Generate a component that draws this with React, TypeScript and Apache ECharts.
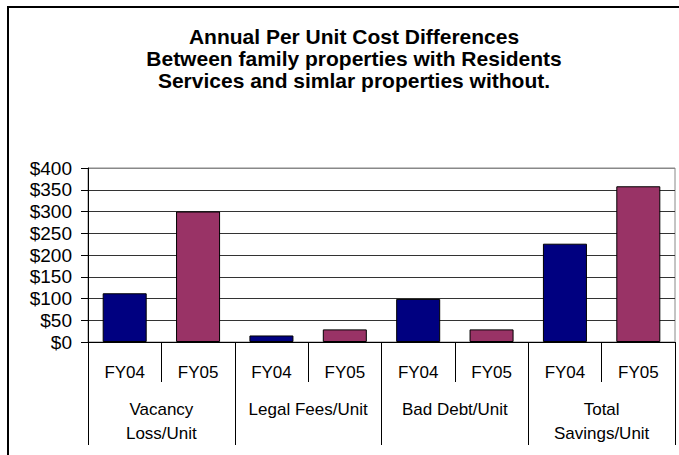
import React, { useEffect, useRef } from "react";
import * as echarts from "echarts";

const titleLines = [
  "Annual Per Unit Cost Differences",
  "Between family properties with Residents",
  "Services and simlar properties without.",
];
const groups = ["Vacancy\nLoss/Unit", "Legal Fees/Unit", "Bad Debt/Unit", "Total\nSavings/Unit"];
const years = ["FY04", "FY05"];
const fy04 = [112, 15, 99, 226];
const fy05 = [300, 29, 29, 358];
const yearColors = ["#000080", "#993366"];
const yTicks = { min: 0, max: 400, interval: 50 };

const FONT = "'Liberation Sans', Arial, Helvetica, sans-serif";

export default function App() {
  const ref = useRef<HTMLDivElement>(null);
  useEffect(() => {
    if (!ref.current) return;
    const chart = echarts.init(ref.current, null, { renderer: "svg" });
    const cats: string[] = [];
    const data: any[] = [];
    groups.forEach((g, i) => {
      [fy04[i], fy05[i]].forEach((v, j) => {
        cats.push(years[j]);
        data.push({ value: v, itemStyle: { color: yearColors[j] } });
      });
    });
    const splitColors = Array.from({ length: 9 }, (_, i) => (i === 8 ? "#888888" : "#333333"));
    chart.setOption({
      animation: false,
      backgroundColor: "#ffffff",
      title: {
        text: titleLines.join("\n"),
        left: 349,
        top: 20,
        textAlign: "center",
        textStyle: {
          fontFamily: FONT,
          fontWeight: "bold",
          fontSize: 21,
          lineHeight: 22,
          color: "#000",
        },
      },
      graphic: [
        {
          type: "rect",
          shape: { x: 8, y: 7, width: 720, height: 520 },
          style: { fill: "none", stroke: "#000", lineWidth: 2 },
          silent: true,
        },
      ],
      grid: {
        left: 88,
        top: 168,
        width: 587,
        height: 174,
        show: true,
        borderColor: "#888888",
        borderWidth: 1,
        backgroundColor: "transparent",
      },
      xAxis: [
        {
          type: "category",
          data: cats,
          position: "bottom",
          axisLine: { show: true, lineStyle: { color: "#000", width: 1 } },
          axisTick: { show: true, interval: 0, length: 40, lineStyle: { color: "#000" } },
          axisLabel: {
            interval: 0,
            margin: 21,
            fontFamily: FONT,
            fontSize: 17,
            lineHeight: 18,
            color: "#000",
          },
          splitLine: { show: false },
        },
        {
          type: "category",
          data: groups,
          position: "bottom",
          axisLine: { show: false },
          axisTick: { show: true, interval: 0, length: 103, lineStyle: { color: "#000" } },
          axisLabel: {
            interval: 0,
            margin: 55,
            fontFamily: FONT,
            fontSize: 17,
            lineHeight: 24,
            color: "#000",
          },
          splitLine: { show: false },
        },
      ],
      yAxis: {
        type: "value",
        min: yTicks.min,
        max: yTicks.max,
        interval: yTicks.interval,
        axisLine: { show: true, lineStyle: { color: "#000", width: 1 } },
        axisTick: { show: true, length: 7, lineStyle: { color: "#000" } },
        axisLabel: {
          formatter: (v: number) => "$" + v,
          margin: 16,
          fontFamily: FONT,
          fontSize: 19,
          color: "#000",
        },
        splitLine: { show: true, lineStyle: { color: splitColors, width: 1 } },
      },
      series: [
        {
          type: "bar",
          xAxisIndex: 0,
          data,
          barWidth: "60%",
          itemStyle: { borderColor: "#000", borderWidth: 1 },
        },
      ],
    });
    return () => chart.dispose();
  }, []);
  return (
    <div
      ref={ref}
      style={{ position: "fixed", left: 0, top: 0, width: 679, height: 455 }}
    />
  );
}
